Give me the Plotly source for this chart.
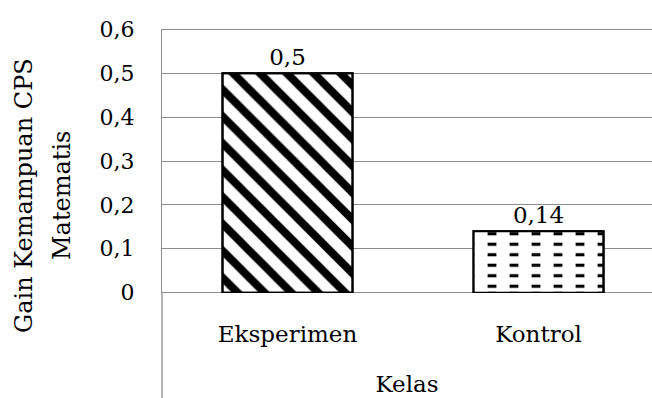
import plotly.graph_objects as go

categories = ["Eksperimen", "Kontrol"]
values = [0.5, 0.14]
value_labels = ["0,5", "0,14"]
tick_vals = [0, 0.1, 0.2, 0.3, 0.4, 0.5, 0.6]
tick_text = ["0", "0,1", "0,2", "0,3", "0,4", "0,5", "0,6"]
x_title = "Kelas"
y_title_lines = ["Gain Kemampuan CPS", "Matematis"]

W, H = 652, 398
L, R, T, B = 162, 0, 29, 105
pw, ph = W - L - R, H - T - B
FONT = "DejaVu Serif"
FS = 23
GRID = "#8c8c8c"

fig = go.Figure()
fig.add_trace(go.Bar(
    x=categories, y=values, width=0.518,
    text=value_labels, textposition="outside", cliponaxis=False,
    textfont=dict(family=FONT, size=FS, color="black"),
    marker=dict(color="white", line=dict(color="black", width=2),
                pattern=dict(shape=["\\", "-"], size=[19, 10.5],
                             solidity=[0.42, 0.3], fgcolor="black",
                             bgcolor="white", fillmode="replace")),
    showlegend=False,
))
# white vertical bands cut the horizontal lines of the second bar into dashes
fig.add_trace(go.Bar(
    x=categories, y=values, width=0.518,
    marker=dict(color="rgba(0,0,0,0)", line=dict(color="black", width=2),
                pattern=dict(shape=["", "|"], size=22, solidity=0.6,
                             fgcolor="white", bgcolor="rgba(0,0,0,0)",
                             fillmode="replace")),
    showlegend=False, hoverinfo="skip",
))

fig.update_layout(
    width=W, height=H, barmode="overlay",
    margin=dict(l=L, r=R, t=T, b=B, pad=0),
    plot_bgcolor="white", paper_bgcolor="white",
    font=dict(family=FONT, size=FS, color="black"),
    xaxis=dict(range=[-0.5, 1.452], showgrid=False, zeroline=False,
               showline=False, ticks="outside", ticklen=20,
               tickcolor="rgba(0,0,0,0)",
               tickfont=dict(family=FONT, size=FS, color="black"),
               title=dict(text=x_title, standoff=30,
                          font=dict(family=FONT, size=FS, color="black"))),
    yaxis=dict(range=[-0.0008, 0.6008], tickvals=tick_vals, ticktext=tick_text,
               showgrid=True, gridcolor=GRID, gridwidth=1.3,
               zeroline=False, showline=True, linecolor=GRID, linewidth=1.3,
               ticks="outside", ticklen=22, tickcolor="rgba(0,0,0,0)",
               tickfont=dict(family=FONT, size=FS - 1, color="black")),
)

# gridlines at both ends of the value range (plotly drops edge gridlines)
for v in (tick_vals[0], tick_vals[-1]):
    fig.add_shape(type="line", xref="paper", yref="y", x0=0, x1=1,
                  y0=v, y1=v, layer="below",
                  line=dict(color=GRID, width=1.3))

# extension of the vertical axis line below the plot area
fig.add_shape(type="line", xref="paper", yref="paper", x0=0, x1=0,
              y0=-B / ph, y1=0, line=dict(color=GRID, width=1.3))

for line, xpx in zip(y_title_lines, [24, 62]):
    fig.add_annotation(text=line, xref="paper", yref="paper",
                       x=(xpx - L) / pw, y=(H - B - 196) / ph,
                       xanchor="center", yanchor="middle", textangle=-90,
                       showarrow=False,
                       font=dict(family=FONT, size=24, color="black"))

fig.write_html("out.html", config={"displayModeBar": False},
               post_script="document.body.style.margin='0';")
